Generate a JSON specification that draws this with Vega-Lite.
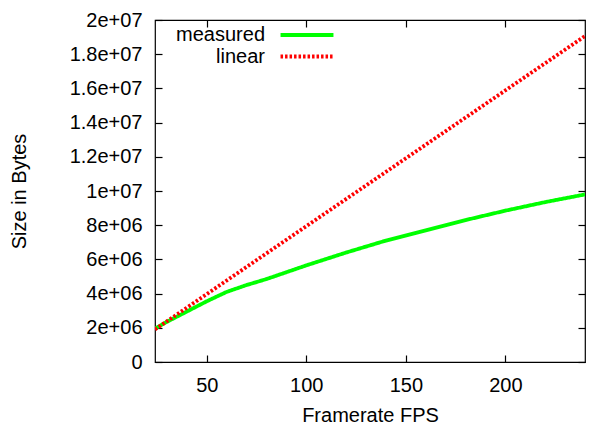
{
  "$schema": "https://vega.github.io/schema/vega-lite/v6.json",
  "width": 430,
  "height": 342,
  "autosize": "none",
  "padding": {"left": 155, "top": 20, "right": 4, "bottom": 62},
  "background": "white",
  "config": {
    "font": "Liberation Sans",
    "view": {"stroke": "black", "strokeWidth": 1.2},
    "axis": {
      "domain": false,
      "grid": false,
      "tickColor": "black",
      "tickSize": -7,
      "tickWidth": 1.2,
      "labelColor": "black",
      "labelFontSize": 20,
      "labelFont": "Liberation Sans",
      "labelFlush": false,
      "labelOverlap": false,
      "titleColor": "black",
      "titleFontSize": 20,
      "titleFont": "Liberation Sans",
      "titleFontWeight": "normal"
    },
    "legend": {
      "labelFont": "Liberation Sans",
      "labelFontSize": 20,
      "labelColor": "black"
    }
  },
  "data": {
    "values": [
      {"fps": 24, "size": 1950000, "series": "measured"},
      {"fps": 30, "size": 2350000, "series": "measured"},
      {"fps": 40, "size": 2950000, "series": "measured"},
      {"fps": 50, "size": 3550000, "series": "measured"},
      {"fps": 60, "size": 4100000, "series": "measured"},
      {"fps": 70, "size": 4500000, "series": "measured"},
      {"fps": 80, "size": 4850000, "series": "measured"},
      {"fps": 90, "size": 5250000, "series": "measured"},
      {"fps": 100, "size": 5650000, "series": "measured"},
      {"fps": 120, "size": 6400000, "series": "measured"},
      {"fps": 140, "size": 7100000, "series": "measured"},
      {"fps": 160, "size": 7700000, "series": "measured"},
      {"fps": 180, "size": 8300000, "series": "measured"},
      {"fps": 200, "size": 8850000, "series": "measured"},
      {"fps": 220, "size": 9350000, "series": "measured"},
      {"fps": 240, "size": 9800000, "series": "measured"},
      {"fps": 24, "size": 1906000, "series": "linear"},
      {"fps": 240, "size": 19060000, "series": "linear"}
    ]
  },
  "layer": [
    {
      "transform": [{"filter": "datum.series == 'measured'"}],
      "mark": {"type": "line", "strokeWidth": 3.8, "clip": true},
      "encoding": {
        "x": {
          "field": "fps", "type": "quantitative",
          "scale": {"domain": [24, 240], "nice": false, "zero": false},
          "axis": {
            "orient": "bottom", "values": [50, 100, 150, 200],
            "title": "Framerate FPS", "labelPadding": 20,
            "titleBaseline": "alphabetic", "titleX": 215, "titleY": 59
          }
        },
        "y": {
          "field": "size", "type": "quantitative",
          "scale": {"domain": [0, 20000000], "nice": false},
          "axis": {
            "orient": "left",
            "values": [0, 2000000, 4000000, 6000000, 8000000, 10000000, 12000000, 14000000, 16000000, 18000000, 20000000],
            "labelExpr": "datum.value == 0 ? '0' : (datum.value < 10000000 ? format(datum.value/1000000, '.2~g') + 'e+06' : format(datum.value/10000000, '.2~g') + 'e+07')",
            "labelPadding": 20,
            "title": "Size in Bytes",
            "titleBaseline": "alphabetic", "titleAngle": -90, "titleX": -130, "titleY": 171
          }
        },
        "color": {
          "field": "series", "type": "nominal",
          "scale": {"domain": ["measured", "linear"], "range": ["#00ff00", "#ff0000"]},
          "legend": {
            "title": null, "orient": "none", "legendX": 142, "legendY": 5,
            "symbolType": "M-5,0H5", "symbolSize": 112, "symbolStrokeWidth": 3.8,
            "rowPadding": 1.5, "padding": 0,
            "labelAlign": "right", "labelOffset": -52
          }
        },
        "strokeDash": {
          "field": "series", "type": "nominal",
          "scale": {"domain": ["measured", "linear"], "range": [[1, 0], [2.5, 2]]},
          "legend": {
            "title": null, "orient": "none", "legendX": 142, "legendY": 5,
            "symbolType": "M-5,0H5", "symbolSize": 112, "symbolStrokeWidth": 3.8,
            "rowPadding": 1.5, "padding": 0,
            "labelAlign": "right", "labelOffset": -52
          }
        }
      }
    },
    {
      "transform": [{"filter": "datum.series == 'linear'"}],
      "mark": {"type": "line", "strokeWidth": 3.8, "clip": true},
      "encoding": {
        "x": {
          "field": "fps", "type": "quantitative",
          "axis": {"orient": "top", "values": [50, 100, 150, 200], "labels": false, "title": null}
        },
        "y": {
          "field": "size", "type": "quantitative",
          "axis": {
            "orient": "right",
            "values": [0, 2000000, 4000000, 6000000, 8000000, 10000000, 12000000, 14000000, 16000000, 18000000, 20000000],
            "labels": false, "title": null
          }
        },
        "color": {"field": "series", "type": "nominal"},
        "strokeDash": {"field": "series", "type": "nominal"}
      }
    }
  ],
  "resolve": {"axis": {"x": "independent", "y": "independent"}}
}
